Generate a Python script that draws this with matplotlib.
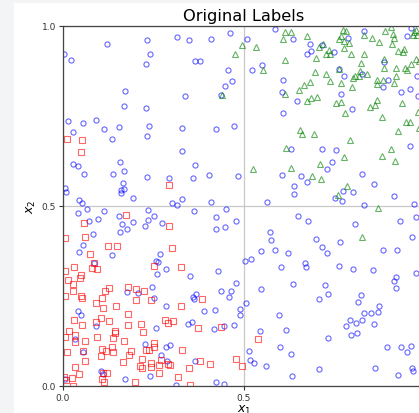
import matplotlib
matplotlib.use("Agg")
from matplotlib import pyplot as plt
from matplotlib.patches import Rectangle

# class 0 (blue circles)
blue_x = [0.122, 0.233, 0.314, 0.349, 0.409, 0.461, 0.003, 0.023, 0.240, 0.230, 0.366, 0.379, 0.455, 0.468,
          0.448, 0.171, 0.338, 0.437, 0.169, 0.229,
          0.586, 0.507, 0.634, 0.831, 0.788, 0.681, 0.715, 0.684, 0.673, 0.749, 0.950, 0.962, 0.521, 0.551,
          0.762, 0.775, 0.827, 0.888, 0.899, 0.885, 0.607, 0.604, 0.646, 0.769, 0.934, 0.958, 0.977, 0.982,
          0.609, 0.799,
          0.015, 0.054, 0.092, 0.028, 0.114, 0.156, 0.135, 0.238, 0.231, 0.328, 0.423, 0.472, 0.329, 0.028,
          0.042, 0.158, 0.059, 0.138, 0.169, 0.366, 0.403, 0.484, 0.233, 0.292, 0.359, 0.167, 0.159, 0.169,
          0.159, 0.006, 0.008, 0.044, 0.052, 0.192, 0.302, 0.316, 0.330, 0.410,
          0.631, 0.716, 0.754, 0.743, 0.730, 0.604, 0.658, 0.674, 0.637, 0.638, 0.827, 0.858, 0.774, 0.801,
          0.752, 0.772, 0.915, 0.959, 0.970, 0.832, 0.564,
          0.067, 0.041, 0.112, 0.073, 0.098, 0.156, 0.162, 0.157, 0.176, 0.192, 0.236, 0.250, 0.235, 0.227,
          0.274, 0.363, 0.450, 0.424, 0.424, 0.448, 0.477, 0.082, 0.055, 0.043, 0.135, 0.268, 0.257, 0.263,
          0.086, 0.285, 0.260, 0.351, 0.427, 0.504, 0.478, 0.246, 0.178, 0.206, 0.436, 0.465, 0.368, 0.358,
          0.649, 0.677, 0.808, 0.932, 0.976, 0.573, 0.575, 0.700, 0.766, 0.964, 0.546, 0.587, 0.621, 0.716,
          0.730, 0.885, 0.924, 0.520, 0.603, 0.669, 0.670, 0.763, 0.801, 0.857, 0.921, 0.914, 0.976, 0.919,
          0.547, 0.635, 0.725, 0.733, 0.824,
          0.252, 0.361, 0.458, 0.041, 0.050, 0.285, 0.390, 0.421, 0.488, 0.490, 0.092, 0.256, 0.346, 0.356,
          0.416, 0.444, 0.472, 0.033, 0.226, 0.285, 0.296, 0.054, 0.272, 0.286, 0.364, 0.104, 0.111, 0.006,
          0.170, 0.239, 0.312, 0.422, 0.444,
          0.706, 0.506, 0.814, 0.597, 0.831, 0.851, 0.870, 0.874, 0.792, 0.809, 0.827, 0.781, 0.860, 0.544,
          0.617, 0.795, 0.812, 0.731, 0.895, 0.935, 0.962, 0.950, 0.515, 0.600, 0.631, 0.517, 0.527, 0.560,
          0.706, 0.862, 0.965, 0.968, 0.926, 0.633]
blue_y = [0.951, 0.960, 0.969, 0.960, 0.963, 0.981, 0.921, 0.906, 0.921, 0.894, 0.904, 0.903, 0.877, 0.847,
          0.832, 0.820, 0.806, 0.809, 0.779, 0.772,
          0.991, 0.965, 0.965, 0.985, 0.968, 0.949, 0.946, 0.931, 0.921, 0.927, 0.972, 0.995, 0.878, 0.891,
          0.881, 0.862, 0.867, 0.899, 0.851, 0.831, 0.851, 0.816, 0.793, 0.811, 0.817, 0.824, 0.860, 0.805,
          0.758, 0.769,
          0.737, 0.731, 0.738, 0.706, 0.715, 0.719, 0.687, 0.721, 0.694, 0.716, 0.714, 0.721, 0.652, 0.616,
          0.611, 0.622, 0.590, 0.589, 0.597, 0.613, 0.585, 0.583, 0.581, 0.578, 0.577, 0.564, 0.545, 0.548,
          0.535, 0.551, 0.539, 0.518, 0.508, 0.521, 0.508, 0.502, 0.519, 0.511,
          0.658, 0.657, 0.655, 0.622, 0.604, 0.586, 0.583, 0.567, 0.555, 0.534, 0.588, 0.560, 0.541, 0.539,
          0.521, 0.515, 0.528, 0.666, 0.506, 0.504, 0.510,
          0.491, 0.481, 0.485, 0.459, 0.464, 0.473, 0.450, 0.429, 0.437, 0.455, 0.490, 0.473, 0.460, 0.444,
          0.452, 0.486, 0.491, 0.469, 0.437, 0.443, 0.458, 0.422, 0.393, 0.373, 0.363, 0.367, 0.348, 0.344,
          0.341, 0.324, 0.310, 0.306, 0.319, 0.348, 0.287, 0.275, 0.260, 0.258, 0.265, 0.264, 0.256, 0.246,
          0.471, 0.459, 0.449, 0.457, 0.470, 0.427, 0.405, 0.408, 0.401, 0.414, 0.376, 0.379, 0.369, 0.386,
          0.369, 0.378, 0.378, 0.352, 0.330, 0.341, 0.330, 0.334, 0.326, 0.323, 0.304, 0.293, 0.314, 0.272,
          0.269, 0.282, 0.280, 0.256, 0.254,
          0.245, 0.242, 0.248, 0.209, 0.197, 0.221, 0.209, 0.212, 0.213, 0.197, 0.167, 0.162, 0.173, 0.179,
          0.157, 0.168, 0.169, 0.131, 0.117, 0.108, 0.113, 0.095, 0.086, 0.069, 0.069, 0.042, 0.034, 0.020,
          0.020, 0.029, 0.003, 0.012, 0.006,
          0.242, 0.231, 0.232, 0.198, 0.202, 0.203, 0.206, 0.221, 0.184, 0.176, 0.182, 0.168, 0.171, 0.154,
          0.156, 0.142, 0.147, 0.133, 0.107, 0.109, 0.112, 0.094, 0.096, 0.107, 0.088, 0.071, 0.063, 0.055,
          0.048, 0.051, 0.049, 0.042, 0.031, 0.028]

# class 1 (red squares)
red_x = [0.010, 0.052, 0.049, 0.292,
         0.174, 0.057, 0.292, 0.006, 0.060, 0.125, 0.148, 0.075, 0.302, 0.085, 0.030, 0.081, 0.093, 0.006,
         0.252, 0.325, 0.013, 0.049, 0.048, 0.027, 0.027, 0.006, 0.049, 0.115, 0.127, 0.180, 0.202, 0.225,
         0.053, 0.108, 0.090, 0.110, 0.147, 0.202, 0.244, 0.326, 0.385, 0.180, 0.030, 0.052, 0.091, 0.104,
         0.127, 0.180, 0.216, 0.283, 0.303, 0.290, 0.372, 0.436, 0.016, 0.033, 0.006, 0.033, 0.062, 0.093,
         0.143, 0.145, 0.138, 0.168, 0.220, 0.250, 0.250, 0.228, 0.010, 0.054, 0.108, 0.134, 0.120, 0.139,
         0.188, 0.183, 0.104, 0.219, 0.237, 0.330, 0.061, 0.034, 0.165, 0.213, 0.217, 0.244, 0.242, 0.265,
         0.271, 0.291, 0.296, 0.379, 0.347, 0.407, 0.478, 0.494, 0.043, 0.025, 0.004, 0.008, 0.111, 0.122,
         0.108, 0.113, 0.265, 0.319, 0.199, 0.350, 0.029,
         0.538]
red_y = [0.687, 0.683, 0.649, 0.557,
         0.474, 0.453, 0.444, 0.411, 0.414, 0.390, 0.388, 0.367, 0.382, 0.342, 0.330, 0.328, 0.326, 0.319,
         0.332, 0.331, 0.294, 0.307, 0.300, 0.282, 0.264, 0.251, 0.249, 0.265, 0.272, 0.276, 0.270, 0.264,
         0.245, 0.245, 0.231, 0.216, 0.221, 0.240, 0.238, 0.223, 0.242, 0.201, 0.182, 0.170, 0.178, 0.189,
         0.181, 0.170, 0.173, 0.182, 0.181, 0.176, 0.162, 0.163, 0.154, 0.141, 0.136, 0.121, 0.124, 0.135,
         0.154, 0.147, 0.134, 0.125, 0.149, 0.120, 0.108, 0.101, 0.094, 0.097, 0.104, 0.108, 0.096, 0.094,
         0.096, 0.086, 0.084, 0.075, 0.099, 0.101, 0.070, 0.054, 0.066, 0.056, 0.051, 0.063, 0.054, 0.058,
         0.072, 0.062, 0.057, 0.069, 0.051, 0.060, 0.074, 0.055, 0.032, 0.022, 0.025, 0.016, 0.036, 0.036,
         0.020, 0.012, 0.035, 0.025, 0.010, 0.003, 0.001,
         0.130]

# class 2 (green triangles)
green_x = [0.494, 0.474, 0.440,
           0.533, 0.614, 0.629, 0.607, 0.675, 0.708, 0.717, 0.698, 0.726, 0.735, 0.738, 0.774, 0.783, 0.769,
           0.763, 0.776, 0.789, 0.776, 0.796, 0.831, 0.831, 0.854, 0.872, 0.890, 0.907, 0.912, 0.914, 0.909,
           0.925, 0.942, 0.940, 0.968, 0.974, 0.614, 0.553, 0.696, 0.726, 0.824, 0.820, 0.808, 0.819, 0.839,
           0.888, 0.886, 0.921, 0.920, 0.914, 0.867, 0.867, 0.885, 0.944, 0.960, 0.975, 0.949, 0.681, 0.666,
           0.651, 0.738, 0.769, 0.801, 0.799, 0.612, 0.675, 0.686, 0.701, 0.753, 0.767, 0.868, 0.862, 0.847,
           0.937, 0.779, 0.880, 0.982, 0.762, 0.970, 0.978, 0.983,
           0.947, 0.959, 0.983, 0.926, 0.656, 0.659, 0.693, 0.792, 0.616, 0.905, 0.882, 0.918, 0.777, 0.710,
           0.526, 0.630, 0.688, 0.712, 0.784, 0.761,
           0.871, 0.826]
green_y = [0.947, 0.923, 0.807,
           0.943, 0.983, 0.984, 0.963, 0.973, 0.941, 0.951, 0.912, 0.921, 0.932, 0.921, 0.990, 0.986, 0.973,
           0.963, 0.959, 0.953, 0.939, 0.922, 0.921, 0.975, 0.968, 0.956, 0.985, 0.997, 0.979, 0.966, 0.950,
           0.931, 0.936, 0.928, 0.975, 0.988, 0.905, 0.878, 0.872, 0.868, 0.896, 0.876, 0.861, 0.861, 0.868,
           0.908, 0.884, 0.884, 0.861, 0.843, 0.851, 0.838, 0.851, 0.884, 0.895, 0.907, 0.877, 0.845, 0.836,
           0.823, 0.847, 0.843, 0.855, 0.831, 0.810, 0.793, 0.800, 0.802, 0.787, 0.788, 0.795, 0.781, 0.774,
           0.786, 0.758, 0.746, 0.760, 0.881, 0.983, 0.975, 0.903,
           0.732, 0.732, 0.718, 0.707, 0.712, 0.701, 0.699, 0.684, 0.660, 0.659, 0.639, 0.626, 0.636, 0.617,
           0.603, 0.606, 0.584, 0.574, 0.556, 0.530,
           0.494, 0.414]

ticks = [0.0, 0.5, 1.0]
tick_labels = ["0.0", "0.5", "1.0"]

fig = plt.figure(figsize=(4.19, 4.14), dpi=100, facecolor="#f3f4f6")
# white panel, the page strip shows at the left and top
fig.patches.append(Rectangle((14 / 419, 0), 1, 410 / 414, transform=fig.transFigure,
                             facecolor="white", edgecolor="none", zorder=-10))

# axes run past the right edge of the image, as in the reference crop
ax = fig.add_axes([63 / 419, 27 / 414, 362 / 419, 360 / 414])
ax.set_zorder(1)

ax.plot(blue_x, blue_y, linestyle="none", marker="o", ms=3.7, mfc="none", mec="b", mew=0.8, alpha=0.6)
ax.plot(red_x, red_y, linestyle="none", marker="s", ms=3.7, mfc="none", mec="r", mew=0.8, alpha=0.6)
ax.plot(green_x, green_y, linestyle="none", marker="^", ms=4.0, mfc="none", mec="g", mew=0.8, alpha=0.6)

ax.set_xlim(0, 1)
ax.set_ylim(0, 1)
ax.set_xticks(ticks)
ax.set_xticklabels(tick_labels)
ax.set_yticks(ticks)
ax.set_yticklabels(tick_labels)
ax.tick_params(labelsize=6.5, length=3, width=0.8, colors="#333333", pad=2)
ax.grid(True, color="#c8c8c8", linewidth=0.9)
ax.set_axisbelow(True)
for sp in ax.spines.values():
    sp.set_color("#444444")
    sp.set_linewidth(0.9)

ax.set_title("Original Labels", fontsize=11.7, pad=4)
ax.set_xlabel("$x_1$", fontsize=9, labelpad=1)
ax.set_ylabel("$x_2$", fontsize=9, labelpad=3)

fig.savefig("out.png", dpi=100)
